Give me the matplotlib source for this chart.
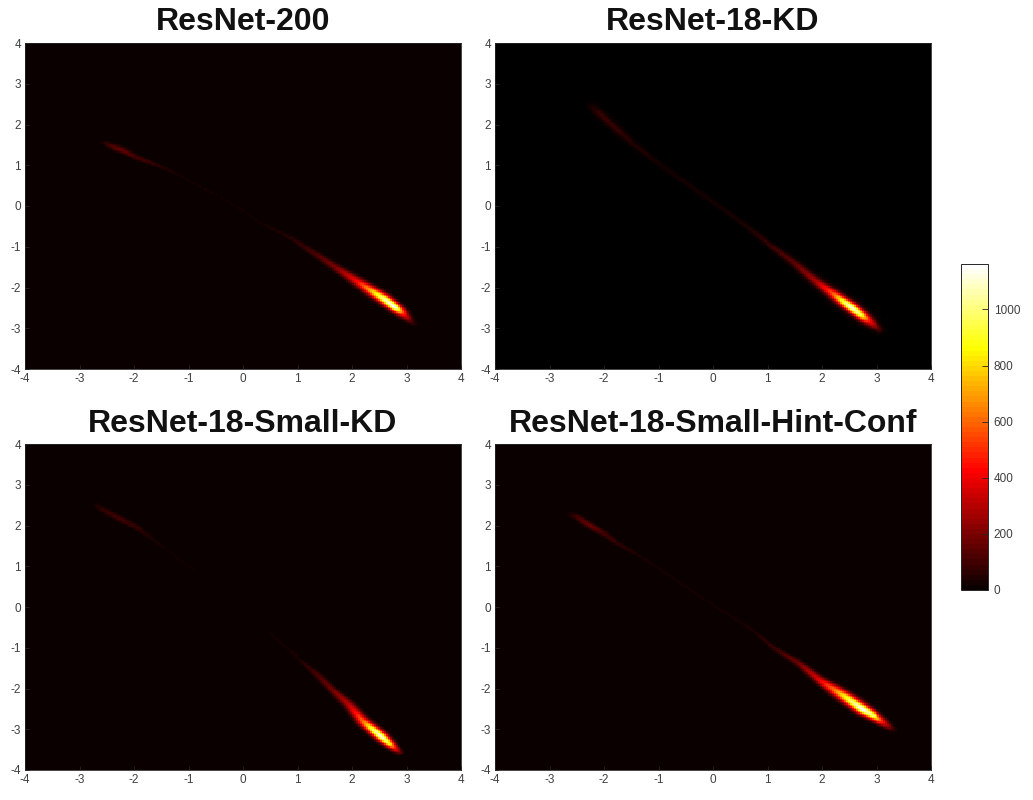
import numpy as np
import matplotlib
matplotlib.use('Agg')
import matplotlib.pyplot as plt

plt.rcParams['font.family'] = ['Liberation Sans', 'DejaVu Sans']
plt.rcParams['axes.unicode_minus'] = False

titles = ['ResNet-200', 'ResNet-18-KD', 'ResNet-18-Small-KD', 'ResNet-18-Small-Hint-Conf']
ticks = [-4, -3, -2, -1, 0, 1, 2, 3, 4]
cbar_ticks = [0, 200, 400, 600, 800, 1000]
vmax = 1162

# ridge of each density: x, y, peak count, half width across the ridge
r200_x = [-2.65, -2.4, -2.2, -2.0, -1.7, -1.4, -1.0, -0.3, 0.3, 0.9, 1.3, 1.7, 2.1, 2.4, 2.6, 2.8, 2.95, 3.12, 3.25]
r200_y = [1.62, 1.47, 1.36, 1.22, 1.07, 0.9, 0.62, 0.15, -0.4, -0.8, -1.15, -1.5, -1.85, -2.12, -2.3, -2.5, -2.65, -2.85, -2.95]
r200_v = [0, 130, 160, 110, 85, 45, 22, 20, 22, 60, 110, 200, 420, 800, 1050, 1150, 500, 100, 0]
r200_w = [.04, .05, .05, .04, .04, .03, .03, .03, .03, .04, .05, .055, .07, .075, .075, .065, .07, .05, .04]

kd_x = [-2.3, -2.1, -1.8, -1.5, -1.0, 0.0, 0.6, 1.05, 1.5, 1.9, 2.2, 2.4, 2.55, 2.72, 2.88, 3.06, 3.15]
kd_y = [2.55, 2.3, 1.92, 1.55, 1.05, 0.1, -0.48, -0.96, -1.4, -1.85, -2.15, -2.36, -2.5, -2.68, -2.85, -3.04, -3.1]
kd_v = [0, 85, 80, 55, 30, 24, 40, 85, 150, 280, 560, 950, 1130, 950, 420, 130, 0]
kd_w = [.04, .05, .05, .04, .03, .03, .03, .04, .05, .06, .07, .07, .07, .07, .07, .05, .04]

small_x = [-2.8, -2.6, -2.3, -2.0, -1.7, -1.4, -1.0, 0.2, 1.05, 1.4, 1.65, 1.95, 2.2, 2.4, 2.55, 2.7, 2.82, 2.95]
small_y = [2.6, 2.42, 2.2, 2.0, 1.7, 1.4, 1.0, -0.3, -1.3, -1.7, -2.04, -2.4, -2.8, -3.03, -3.2, -3.38, -3.52, -3.65]
small_v = [0, 70, 100, 80, 40, 22, 20, 6, 45, 120, 190, 300, 600, 1000, 1120, 850, 350, 0]
small_w = [.04, .05, .05, .05, .04, .03, .03, .03, .03, .05, .05, .065, .07, .07, .07, .06, .05, .04]

hint_x = [-2.7, -2.5, -2.25, -2.0, -1.75, -1.4, -1.0, 0.0, 0.7, 1.17, 1.6, 1.96, 2.25, 2.5, 2.75, 2.95, 3.15, 3.32, 3.42]
hint_y = [2.35, 2.22, 2.0, 1.8, 1.55, 1.3, 0.95, 0.05, -0.55, -1.05, -1.4, -1.79, -2.05, -2.28, -2.52, -2.68, -2.85, -3.02, -3.1]
hint_v = [0, 110, 170, 100, 70, 40, 28, 24, 40, 90, 190, 380, 650, 950, 1150, 980, 400, 90, 0]
hint_w = [.04, .05, .05, .05, .04, .03, .03, .03, .03, .04, .05, .06, .08, .08, .08, .07, .06, .05, .04]

ridges = [(r200_x, r200_y, r200_v, r200_w),
          (kd_x, kd_y, kd_v, kd_w),
          (small_x, small_y, small_v, small_w),
          (hint_x, hint_y, hint_v, hint_w)]
# background level, -1 falls below the colormap and comes out pure black
backgrounds = [0, -1, 0, 0]

# position of the axes in pixels: left, top, width, height
boxes = [(25, 43, 436, 326), (495, 43, 436, 326), (25, 444, 436, 326), (495, 444, 436, 326)]
W, H = 1033, 800


def density(xs, ys, vs, ws, gx, gy, bg):
    # keeps the value of the nearest ridge segment for every grid cell
    xs, ys, vs, ws = [np.array(a, dtype=float) for a in (xs, ys, vs, ws)]
    out = np.zeros(gx.shape)
    for i in range(len(xs) - 1):
        dx, dy = xs[i + 1] - xs[i], ys[i + 1] - ys[i]
        t = ((gx - xs[i]) * dx + (gy - ys[i]) * dy) / (dx * dx + dy * dy)
        t = np.clip(t, 0, 1)
        d2 = (gx - xs[i] - t * dx) ** 2 + (gy - ys[i] - t * dy) ** 2
        v = vs[i] + t * (vs[i + 1] - vs[i])
        w = ws[i] + t * (ws[i + 1] - ws[i])
        out = np.maximum(out, v * np.exp(-d2 / (2 * w * w)))
    out[out < 2] = bg
    return out


def to_fig(box):
    left, top, bw, bh = box
    return [left / W, 1 - (top + bh) / H, bw / W, bh / H]


cmap = plt.get_cmap('hot', 64).copy()
cmap.set_under('black')
text_col = '#404040'

grid = np.linspace(-4, 4, 220)
gx, gy = np.meshgrid(grid, grid)

fig = plt.figure(figsize=(W / 100, H / 100), dpi=100)
for k, (xs, ys, vs, ws) in enumerate(ridges):
    ax = fig.add_axes(to_fig(boxes[k]))
    z = density(xs, ys, vs, ws, gx, gy, backgrounds[k])
    im = ax.imshow(z, origin='lower', extent=[-4, 4, -4, 4], aspect='auto',
                   cmap=cmap, vmin=0, vmax=vmax, interpolation='nearest')
    ax.set_xticks(ticks)
    ax.set_yticks(ticks)
    ax.tick_params(direction='in', length=3, width=0.6, color='#262626', labelsize=8.5,
                   labelcolor=text_col, pad=3)
    for s in ax.spines.values():
        s.set_linewidth(0.6)
        s.set_color('#262626')
    ax.set_title(titles[k], fontsize=23, fontweight='bold', color='#111111', pad=9)

cax = fig.add_axes(to_fig((960.5, 264, 27.5, 326)))
cb = fig.colorbar(im, cax=cax, ticks=cbar_ticks)
cb.ax.tick_params(direction='in', length=4, width=0.6, color='#262626', labelsize=8.5,
                  labelcolor=text_col, pad=4)
cb.outline.set_linewidth(0.7)
cb.outline.set_edgecolor('#262626')

fig.savefig('out.png', dpi=100)
